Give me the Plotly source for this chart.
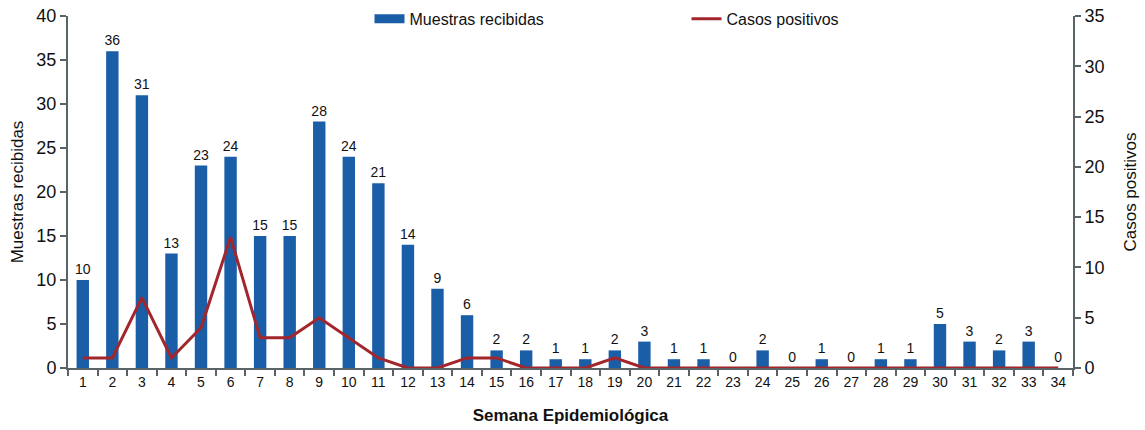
import plotly.graph_objects as go

semanas = [str(i) for i in range(1, 35)]
muestras = [10, 36, 31, 13, 23, 24, 15, 15, 28, 24, 21, 14, 9, 6, 2, 2, 1, 1, 2, 3,
            1, 1, 0, 2, 0, 1, 0, 1, 1, 5, 3, 2, 3, 0]
positivos = [1, 1, 7, 1, 4, 13, 3, 3, 5, 3, 1, 0, 0, 1, 1, 0, 0, 0, 1, 0,
             0, 0, 0, 0, 0, 0, 0, 0, 0, 0, 0, 0, 0, 0]

FONT = "Liberation Sans, Arial, sans-serif"
AXC = "#5a6466"
BLUE = "#1a5ea8"
RED = "#a3262c"

fig = go.Figure()
fig.add_trace(go.Bar(
    x=semanas, y=muestras, name="Muestras recibidas", showlegend=False,
    marker=dict(color=BLUE, line=dict(width=0)),
    text=muestras, textposition="outside", cliponaxis=False, constraintext="none",
    textfont=dict(family=FONT, size=14, color="#111"),
))
# legend-only entry giving the wide rectangular swatch of the original
fig.add_trace(go.Scatter(
    x=[None], y=[None], name="Muestras recibidas", mode="lines",
    line=dict(color=BLUE, width=9), hoverinfo="skip",
))
fig.add_trace(go.Scatter(
    x=semanas, y=positivos, name="Casos positivos", yaxis="y2",
    mode="lines", line=dict(color=RED, width=3),
))

fig.update_layout(
    width=1145, height=430,
    margin=dict(l=68, r=72, t=16, b=62, autoexpand=False),
    paper_bgcolor="white", plot_bgcolor="white",
    font=dict(family=FONT, color="#111"),
    bargap=0.58,
    showlegend=True,
    legend=dict(orientation="h", x=0.30, xanchor="left", y=1.04, yanchor="top",
                font=dict(size=16, family=FONT), entrywidth=272,
                bgcolor="rgba(0,0,0,0)"),
    xaxis=dict(
        type="category", showline=True, linecolor=AXC, linewidth=2, automargin=False,
        ticks="outside", tickson="boundaries", tickcolor=AXC, ticklen=6, tickwidth=2,
        tickfont=dict(size=14, family=FONT),
        title=dict(text="<b>Semana Epidemiológica</b>", font=dict(size=17, family=FONT), standoff=20),
        showgrid=False,
    ),
    yaxis=dict(
        range=[0, 40], dtick=5, showline=True, linecolor=AXC, linewidth=2, automargin=False,
        ticks="outside", tickcolor=AXC, ticklen=6, tickwidth=2,
        tickfont=dict(size=18, family=FONT), showgrid=False, zeroline=False,
        title=dict(text="Muestras recibidas", font=dict(size=17, family=FONT), standoff=8),
    ),
    yaxis2=dict(
        range=[0, 35], dtick=5, overlaying="y", side="right", automargin=False,
        showline=True, linecolor=AXC, linewidth=2,
        ticks="outside", tickcolor=AXC, ticklen=6, tickwidth=2,
        tickfont=dict(size=18, family=FONT), showgrid=False, zeroline=False,
        title=dict(text="Casos positivos", font=dict(size=17, family=FONT), standoff=20),
    ),
)

fig.write_html("out.html", config={"displayModeBar": False},
               post_script="document.body.style.margin='0';")
